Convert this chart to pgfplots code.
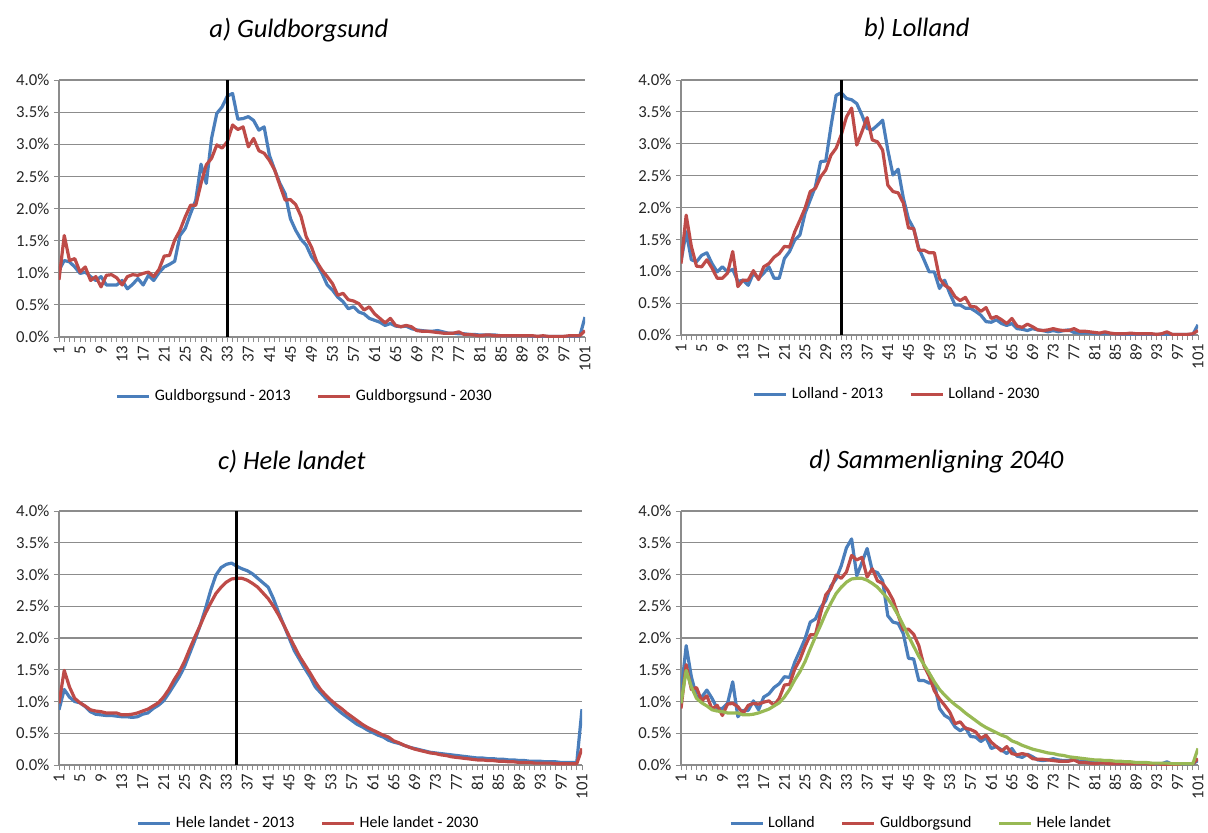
\documentclass[border=0pt]{standalone}
\usepackage{fontspec}
\setmainfont{Carlito}
\usepackage{pgfplots}
\usepackage{pgfplotstable}
\pgfplotsset{compat=1.18}

\definecolor{xlblue}{HTML}{4A7EBB}
\definecolor{xlred}{HTML}{BE4B48}
\definecolor{xlgreen}{HTML}{98B954}
\definecolor{gridgray}{HTML}{8C8C8C}

% andel af befolkningen pr. alder (%), 1..101
\pgfplotstableread{
x a13 a30 b13 b30 c13 c30
1 1.04 0.89 1.15 1.12 0.87 0.97
2 1.19 1.58 1.62 1.88 1.19 1.49
3 1.17 1.19 1.18 1.39 1.07 1.23
4 1.09 1.22 1.15 1.08 1.00 1.05
5 0.99 1.01 1.25 1.07 0.98 0.98
6 1.01 1.09 1.29 1.18 0.92 0.93
7 0.94 0.88 1.12 1.05 0.84 0.87
8 0.88 0.94 0.99 0.89 0.80 0.85
9 0.94 0.78 1.07 0.89 0.79 0.84
10 0.81 0.96 0.99 0.97 0.78 0.82
11 0.81 0.97 1.03 1.31 0.78 0.82
12 0.81 0.92 0.84 0.76 0.77 0.82
13 0.88 0.81 0.86 0.86 0.76 0.79
14 0.75 0.94 0.78 0.86 0.76 0.79
15 0.82 0.97 0.97 1.01 0.75 0.80
16 0.91 0.96 0.89 0.87 0.76 0.82
17 0.81 0.99 0.97 1.07 0.80 0.85
18 0.96 1.01 1.07 1.12 0.82 0.88
19 0.88 0.94 0.89 1.22 0.89 0.93
20 1.00 1.05 0.89 1.28 0.94 0.98
21 1.09 1.26 1.20 1.39 1.01 1.07
22 1.13 1.27 1.31 1.38 1.13 1.19
23 1.18 1.51 1.49 1.62 1.26 1.34
24 1.58 1.66 1.57 1.80 1.39 1.47
25 1.69 1.87 1.91 1.99 1.55 1.63
26 1.92 2.05 2.12 2.25 1.76 1.83
27 2.13 2.05 2.33 2.30 1.97 2.02
28 2.69 2.39 2.72 2.48 2.20 2.20
29 2.39 2.68 2.73 2.59 2.46 2.39
30 3.09 2.78 3.27 2.82 2.75 2.55
31 3.48 2.99 3.76 2.93 2.99 2.70
32 3.58 2.94 3.80 3.14 3.11 2.80
33 3.75 3.04 3.71 3.42 3.16 2.88
34 3.79 3.30 3.69 3.56 3.18 2.93
35 3.39 3.23 3.63 2.98 3.13 2.94
36 3.40 3.27 3.45 3.19 3.09 2.94
37 3.43 2.96 3.24 3.41 3.06 2.91
38 3.37 3.09 3.22 3.06 3.01 2.86
39 3.22 2.90 3.29 3.03 2.94 2.80
40 3.27 2.86 3.37 2.90 2.87 2.71
41 2.83 2.75 2.90 2.35 2.80 2.62
42 2.60 2.60 2.51 2.25 2.62 2.50
43 2.39 2.36 2.60 2.23 2.40 2.36
44 2.23 2.13 2.15 2.07 2.20 2.20
45 1.84 2.14 1.82 1.68 2.00 2.03
46 1.66 2.06 1.67 1.67 1.80 1.87
47 1.52 1.88 1.36 1.33 1.66 1.71
48 1.43 1.56 1.18 1.33 1.52 1.58
49 1.25 1.40 0.99 1.29 1.39 1.45
50 1.14 1.17 0.99 1.29 1.23 1.31
51 0.99 1.04 0.73 0.89 1.14 1.19
52 0.81 0.94 0.86 0.78 1.05 1.10
53 0.73 0.83 0.65 0.73 0.97 1.02
54 0.62 0.65 0.47 0.60 0.89 0.95
55 0.55 0.68 0.47 0.54 0.82 0.89
56 0.44 0.58 0.42 0.59 0.76 0.82
57 0.47 0.56 0.42 0.45 0.70 0.76
58 0.39 0.52 0.37 0.44 0.64 0.70
59 0.36 0.42 0.31 0.37 0.60 0.64
60 0.29 0.47 0.21 0.43 0.55 0.59
61 0.26 0.36 0.20 0.26 0.51 0.55
62 0.23 0.29 0.24 0.29 0.47 0.51
63 0.18 0.22 0.18 0.24 0.44 0.47
64 0.21 0.29 0.15 0.18 0.39 0.44
65 0.17 0.18 0.18 0.26 0.36 0.38
66 0.16 0.16 0.10 0.14 0.34 0.35
67 0.17 0.18 0.09 0.12 0.31 0.31
68 0.13 0.16 0.07 0.17 0.28 0.28
69 0.11 0.10 0.10 0.13 0.26 0.25
70 0.10 0.09 0.08 0.08 0.24 0.23
71 0.09 0.09 0.07 0.07 0.22 0.21
72 0.09 0.08 0.05 0.08 0.20 0.19
73 0.10 0.07 0.07 0.10 0.19 0.18
74 0.08 0.06 0.05 0.08 0.18 0.16
75 0.06 0.06 0.07 0.07 0.17 0.15
76 0.06 0.06 0.08 0.07 0.16 0.13
77 0.05 0.08 0.04 0.10 0.15 0.12
78 0.05 0.04 0.03 0.06 0.14 0.11
79 0.04 0.04 0.03 0.06 0.13 0.10
80 0.04 0.03 0.03 0.05 0.12 0.09
81 0.03 0.02 0.02 0.04 0.11 0.08
82 0.03 0.03 0.02 0.03 0.11 0.08
83 0.03 0.03 0.02 0.05 0.10 0.07
84 0.03 0.02 0.02 0.03 0.10 0.07
85 0.02 0.02 0.02 0.02 0.09 0.06
86 0.02 0.02 0.01 0.02 0.09 0.06
87 0.02 0.02 0.01 0.02 0.08 0.05
88 0.02 0.02 0.01 0.03 0.08 0.05
89 0.02 0.02 0.01 0.02 0.07 0.04
90 0.02 0.02 0.01 0.02 0.07 0.04
91 0.01 0.02 0.01 0.02 0.06 0.04
92 0.01 0.01 0.01 0.02 0.06 0.03
93 0.01 0.02 0.01 0.01 0.06 0.03
94 0.01 0.01 0.01 0.02 0.05 0.03
95 0.01 0.01 0.01 0.05 0.05 0.03
96 0.01 0.01 0.01 0.01 0.05 0.02
97 0.01 0.01 0.01 0.01 0.04 0.02
98 0.01 0.02 0.01 0.01 0.04 0.02
99 0.01 0.02 0.01 0.01 0.04 0.02
100 0.01 0.02 0.01 0.02 0.04 0.02
101 0.31 0.10 0.16 0.07 0.88 0.26
}\data

\pgfplotsset{
  panel/.style={
    scale only axis,
    xmin=1, xmax=101, ymin=0, ymax=4,
    axis x line*=bottom, axis y line*=left,
    axis line style={-, draw=gridgray, line width=0.6bp},
    xtick={1,5,...,101}, minor xtick={1,...,101},
    ytick={0,0.5,...,4},
    tick align=outside, tickpos=left,
    major tick length=2.6bp, minor tick length=2.6bp,
    every tick/.style={draw=gridgray, line width=0.5bp},
    every minor tick/.style={draw=gridgray, line width=0.5bp},
    ymajorgrids, major grid style={draw=gridgray, line width=0.6bp},
    /pgf/number format/assume math mode=true,
    tick label style={font=\fontsize{8.4}{10}\selectfont, text=black!85},
    yticklabel={\pgfmathprintnumber[fixed,fixed zerofill,precision=1]{\tick}\%},
    xticklabel style={rotate=90, anchor=east, inner sep=1.5bp},
    yticklabel style={inner sep=2bp},
    title style={font=\fontsize{13.3}{16}\selectfont\itshape, anchor=center},
    legend style={draw=none, fill=none, anchor=center,
      font=\fontsize{8}{9.6}\selectfont,
      /tikz/every even column/.append style={column sep=11bp}},
    legend cell align=left,
    legend image code/.code={\draw[##1, line width=1.6bp] (0,0) -- (16bp,0);},
    every axis plot/.append style={no marks, line width=1.6bp, line join=round},
  },
}

\begin{document}
\begin{tikzpicture}
\useasboundingbox (0,0) rectangle (604bp,-416.5bp);

% a) Guldborgsund
\begin{axis}[panel, at={(29.5bp,-168.5bp)}, anchor=south west,
  width=263bp, height=128.5bp,
  title={a) Guldborgsund}, title style={at={(0.456,1.148)}},
  legend columns=2, legend style={at={(0.469,-0.23)}}]
\addplot[xlblue] table[x=x, y=a13]{\data};
\addlegendentry{Guldborgsund - 2013}
\addplot[xlred] table[x=x, y=a30]{\data};
\addlegendentry{Guldborgsund - 2030}
\addplot[black, line width=1.5bp, forget plot] coordinates {(33,0) (33,4)};
\end{axis}

% b) Lolland
\begin{axis}[panel, at={(340.5bp,-167.5bp)}, anchor=south west,
  width=258.5bp, height=127.5bp,
  title={b) Lolland}, title style={at={(0.456,1.155)}},
  legend columns=2, legend style={at={(0.42,-0.233)}}]
\addplot[xlblue] table[x=x, y=b13]{\data};
\addlegendentry{Lolland - 2013}
\addplot[xlred] table[x=x, y=b30]{\data};
\addlegendentry{Lolland - 2030}
\addplot[black, line width=1.5bp, forget plot] coordinates {(32,0) (32,4)};
\end{axis}

% c) Hele landet
\begin{axis}[panel, at={(29.5bp,-382.5bp)}, anchor=south west,
  width=261.5bp, height=127bp,
  title={c) Hele landet}, title style={at={(0.445,1.148)}},
  legend columns=2, legend style={at={(0.479,-0.23)}}]
\addplot[xlblue] table[x=x, y=c13]{\data};
\addlegendentry{Hele landet - 2013}
\addplot[xlred] table[x=x, y=c30]{\data};
\addlegendentry{Hele landet - 2030}
\addplot[black, line width=1.5bp, forget plot] coordinates {(35,0) (35,4)};
\end{axis}

% d) Sammenligning 2040
\begin{axis}[panel, at={(340.5bp,-382.5bp)}, anchor=south west,
  width=258.5bp, height=127bp,
  title={d) Sammenligning 2040}, title style={at={(0.494,1.148)}},
  legend columns=3, legend style={at={(0.466,-0.23)}}]
\addplot[xlblue] table[x=x, y=b30]{\data};
\addlegendentry{Lolland}
\addplot[xlred] table[x=x, y=a30]{\data};
\addlegendentry{Guldborgsund}
\addplot[xlgreen] table[x=x, y=c30]{\data};
\addlegendentry{Hele landet}
\end{axis}
\end{tikzpicture}
\end{document}
